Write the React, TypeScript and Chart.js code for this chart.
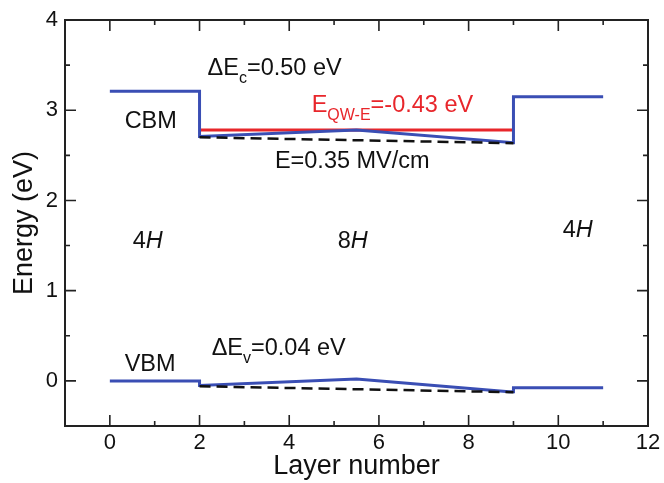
import React, { useEffect, useRef } from "react";
import { Chart, registerables } from "chart.js";
Chart.register(...registerables);

// ---- data (layer number vs energy in eV) ----
const cbmLayer = [0, 2, 2, 5.5, 9, 9, 11];
const cbmEnergy = [3.21, 3.21, 2.71, 2.78, 2.64, 3.15, 3.15];
const vbmLayer = [0, 2, 2, 5.5, 8.9, 9, 9, 11];
const vbmEnergy = [0, 0, -0.05, 0.02, -0.12, -0.12, -0.075, -0.075];
const qwLayer = [2, 9];
const qwEnergy = [2.78, 2.78];
const fieldCbmLayer = [2, 9];
const fieldCbmEnergy = [2.7, 2.635];
const fieldVbmLayer = [2, 9];
const fieldVbmEnergy = [-0.06, -0.125];

const xTickValues = [0, 2, 4, 6, 8, 10, 12];
const xMinorValues = [1, 3, 5, 7, 9, 11];
const yTickValues = [0, 1, 2, 3, 4];
const yMinorValues = [0.5, 1.5, 2.5, 3.5];

type Part = { t: string; s?: "sub" | "i" };
const annotations: { x: number; y: number; color: string; parts: Part[] }[] = [
  { x: 2.18, y: 3.39, color: "#111", parts: [{ t: "ΔE" }, { t: "c", s: "sub" }, { t: "=0.50 eV" }] },
  { x: 0.33, y: 2.8, color: "#111", parts: [{ t: "CBM" }] },
  { x: 4.5, y: 2.98, color: "#e8262b", parts: [{ t: "E" }, { t: "QW-E", s: "sub" }, { t: "=-0.43 eV" }] },
  { x: 3.68, y: 2.36, color: "#111", parts: [{ t: "E=0.35 MV/cm" }] },
  { x: 0.51, y: 1.47, color: "#111", parts: [{ t: "4" }, { t: "H", s: "i" }] },
  { x: 5.08, y: 1.47, color: "#111", parts: [{ t: "8" }, { t: "H", s: "i" }] },
  { x: 10.1, y: 1.6, color: "#111", parts: [{ t: "4" }, { t: "H", s: "i" }] },
  { x: 0.33, y: 0.11, color: "#111", parts: [{ t: "VBM" }] },
  { x: 2.27, y: 0.29, color: "#111", parts: [{ t: "ΔE" }, { t: "v", s: "sub" }, { t: "=0.04 eV" }] },
];

const FONT = '"Liberation Sans", Arial, Helvetica, sans-serif';
const BLUE = "rgb(58,78,180)";
const RED = "rgb(232,38,43)";

const pts = (xs: number[], ys: number[]) => xs.map((x, i) => ({ x, y: ys[i] }));

const framePlugin = {
  id: "frameTicks",
  afterDatasetsDraw(chart: any) {
    const { ctx, chartArea: a, scales } = chart;
    const xs = scales.x;
    const ys = scales.y;
    ctx.save();
    ctx.strokeStyle = "#222";
    ctx.lineWidth = 1.6;
    const tick = (vals: number[], len: number) => {
      vals.forEach((v) => {
        const px = xs.getPixelForValue(v);
        ctx.beginPath();
        ctx.moveTo(px, a.bottom);
        ctx.lineTo(px, a.bottom - len);
        ctx.moveTo(px, a.top);
        ctx.lineTo(px, a.top + len);
        ctx.stroke();
      });
    };
    const tickY = (vals: number[], len: number) => {
      vals.forEach((v) => {
        const py = ys.getPixelForValue(v);
        ctx.beginPath();
        ctx.moveTo(a.left, py);
        ctx.lineTo(a.left + len, py);
        ctx.moveTo(a.right, py);
        ctx.lineTo(a.right - len, py);
        ctx.stroke();
      });
    };
    tick(xTickValues, 11);
    tick(xMinorValues, 5);
    tickY(yTickValues, 11);
    tickY(yMinorValues, 5);
    ctx.lineWidth = 2;
    ctx.strokeRect(a.left, a.top, a.right - a.left, a.bottom - a.top);

    // annotations
    ctx.textBaseline = "alphabetic";
    ctx.textAlign = "left";
    annotations.forEach((an) => {
      let px = xs.getPixelForValue(an.x);
      const py = ys.getPixelForValue(an.y);
      ctx.fillStyle = an.color;
      an.parts.forEach((p) => {
        if (p.s === "sub") {
          ctx.font = `16px ${FONT}`;
          ctx.fillText(p.t, px, py + 8);
        } else if (p.s === "i") {
          ctx.font = `italic 23.5px ${FONT}`;
          ctx.fillText(p.t, px, py);
        } else {
          ctx.font = `23.5px ${FONT}`;
          ctx.fillText(p.t, px, py);
        }
        px += ctx.measureText(p.t).width;
      });
    });
    ctx.restore();
  },
};

export default function App() {
  const ref = useRef<HTMLCanvasElement>(null);
  useEffect(() => {
    if (!ref.current) return;
    const chart = new Chart(ref.current, {
      type: "line",
      data: {
        datasets: [
          {
            data: pts(fieldCbmLayer, fieldCbmEnergy),
            borderColor: "#111",
            borderWidth: 2.5,
            borderDash: [11, 6],
            pointRadius: 0,
          },
          {
            data: pts(fieldVbmLayer, fieldVbmEnergy),
            borderColor: "#111",
            borderWidth: 2.5,
            borderDash: [11, 6],
            pointRadius: 0,
          },
          {
            data: pts(cbmLayer, cbmEnergy),
            borderColor: BLUE,
            borderWidth: 3,
            pointRadius: 0,
          },
          {
            data: pts(vbmLayer, vbmEnergy),
            borderColor: BLUE,
            borderWidth: 3,
            pointRadius: 0,
          },
          {
            data: pts(qwLayer, qwEnergy),
            borderColor: RED,
            borderWidth: 3,
            pointRadius: 0,
          },
        ],
      },
      options: {
        animation: false,
        responsive: false,
        events: [],
        layout: { padding: { left: 0, right: 16, top: 20, bottom: 0 } },
        plugins: { legend: { display: false }, tooltip: { enabled: false } },
        scales: {
          x: {
            type: "linear",
            min: -1,
            max: 12,
            grid: { display: false, drawTicks: false },
            border: { display: false },
            afterBuildTicks: (s: any) => {
              s.ticks = xTickValues.map((v) => ({ value: v }));
            },
            afterFit: (s: any) => {
              s.height = 57;
              s.paddingRight = 0;
              s.paddingLeft = 0;
            },
            ticks: {
              color: "#111",
              font: { family: FONT, size: 22 },
              padding: 4,
              maxRotation: 0,
              autoSkip: false,
            },
            title: {
              display: true,
              text: "Layer number",
              color: "#111",
              font: { family: FONT, size: 27 },
              padding: { top: 0, bottom: 0 },
            },
          },
          y: {
            type: "linear",
            min: -0.5,
            max: 4,
            grid: { display: false, drawTicks: false },
            border: { display: false },
            afterBuildTicks: (s: any) => {
              s.ticks = yTickValues.map((v) => ({ value: v }));
            },
            afterFit: (s: any) => {
              s.width = 65;
              s.paddingTop = 0;
              s.paddingBottom = 0;
            },
            ticks: {
              color: "#111",
              font: { family: FONT, size: 22 },
              padding: 7,
              autoSkip: false,
            },
            title: {
              display: true,
              text: "Energy (eV)",
              color: "#111",
              font: { family: FONT, size: 27 },
              padding: { top: 8, bottom: 0 },
            },
          },
        },
      },
      plugins: [framePlugin],
    });
    return () => chart.destroy();
  }, []);
  return (
    <div style={{ position: "absolute", left: 0, top: 0, width: 664, height: 483, background: "#fff" }}>
      <canvas ref={ref} width={664} height={483} style={{ display: "block" }} />
    </div>
  );
}
